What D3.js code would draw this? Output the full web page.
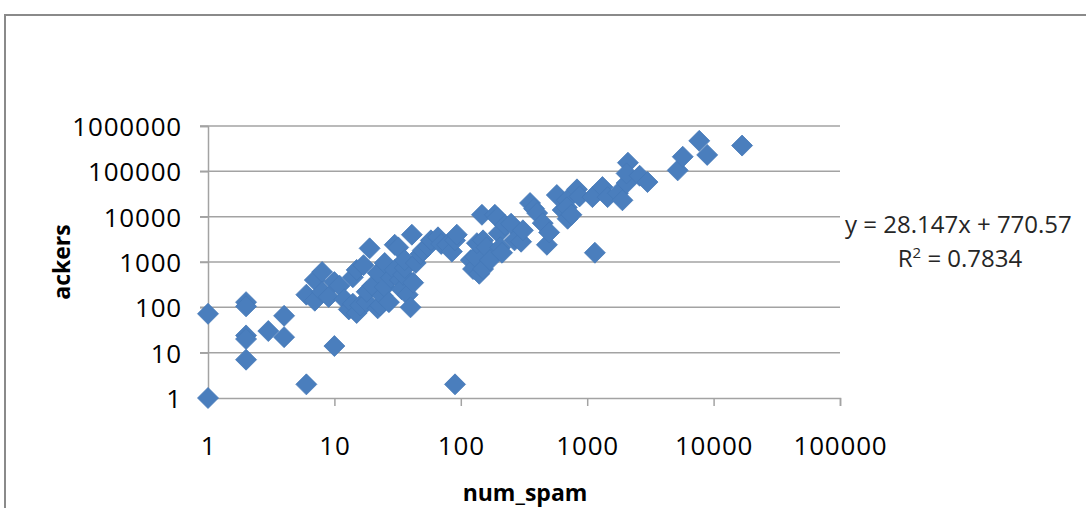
<!DOCTYPE html>
<html>
<head>
<meta charset="utf-8">
<script src="https://cdn.jsdelivr.net/npm/d3@7"></script>
<style>
  body { margin: 0; background: #fff; }
  svg { display: block; }
</style>
</head>
<body>
<div id="chart"></div>
<script>
// data: [num_spam, ackers]
var lowPoints = [
    [1, 1], [1, 72], [2, 130], [2, 105], [2, 24], [2, 20], [2, 7], [3, 30],
    [4, 65], [4, 22], [6, 2], [10, 14], [90, 2]
];
var midPoints = [
    [6, 190], [7, 140], [7, 400], [8, 600], [8, 220], [9, 170], [10, 360], [11, 300],
    [12, 150], [13, 90], [14, 460], [14, 120], [15, 670], [15, 75], [16, 110], [17, 850],
    [18, 130], [19, 2000], [18, 220], [20, 300], [22, 570], [22, 95], [23, 110], [24, 180],
    [25, 950], [25, 280], [27, 130], [28, 450], [30, 2400], [30, 670], [32, 2100], [33, 400],
    [34, 250], [35, 520], [36, 740], [36, 1100], [38, 190], [40, 100], [41, 4000], [42, 350],
    [44, 950], [48, 1500], [50, 1800], [55, 2200], [58, 3000], [66, 3500], [70, 2500],
    [78, 2400], [85, 1700], [90, 3000], [93, 4000]
];
var highPoints = [
    [120, 1100], [125, 700], [130, 1300], [134, 2600], [140, 550], [147, 11000], [150, 3000],
    [150, 700], [160, 2100], [170, 1100], [186, 11000], [195, 9500], [200, 4300], [205, 2100],
    [212, 1600], [224, 6500], [250, 7000], [266, 3000], [300, 2800], [310, 5000], [353, 20000],
    [380, 15000], [402, 12000], [445, 7200], [480, 2400], [500, 4500], [575, 30000],
    [640, 14000], [690, 23000], [690, 16000], [700, 9000], [750, 11000], [830, 40000],
    [870, 28000], [1100, 27000], [1150, 1600], [1320, 45000], [1450, 27000], [1750, 33000],
    [1900, 23000], [2050, 55000], [2100, 155000], [2050, 90000], [2600, 80000], [3000, 58000],
    [5200, 105000], [5700, 210000], [7700, 470000], [8900, 230000], [16800, 370000]
];
var xTicks = [1, 10, 100, 1000, 10000, 100000];
var yTicks = [1, 10, 100, 1000, 10000, 100000, 1000000];
var xTitle = "num_spam", yTitle = "ackers";
var trendText = "y = 28.147x + 770.57", r2Value = "0.7834";

var svg = d3.select("#chart").append("svg"),
    svg_width = 1086, svg_height = 508;
svg.attr("width", svg_width).attr("height", svg_height);

var font = "'Open Sans', 'DejaVu Sans', sans-serif";

// outer chart frame (cut off on the right and bottom)
svg.append("rect")
    .attr("x", 5).attr("y", 15)
    .attr("width", 1200).attr("height", 600)
    .attr("fill", "none")
    .attr("stroke", "#8a8a8a")
    .attr("stroke-width", 2);

var x = d3.scaleLog().domain([1, 100000]).range([208, 840]),
    y = d3.scaleLog().domain([1, 1000000]).range([398, 126]);

// gridlines
svg.append("g")
    .selectAll("line")
    .data(yTicks.slice(1))
    .enter().append("line")
    .attr("x1", x(1) - 8).attr("x2", x(100000))
    .attr("y1", function(d) { return y(d); })
    .attr("y2", function(d) { return y(d); })
    .attr("stroke", "#a3a3a3")
    .attr("stroke-width", 1.5);

// axes
var xAxis = svg.append("g")
    .attr("transform", "translate(0," + y(1) + ")")
    .call(d3.axisBottom(x).tickValues(xTicks).tickSize(8).tickPadding(31).tickFormat(d3.format("d")));
var yAxis = svg.append("g")
    .attr("transform", "translate(" + x(1) + ",0)")
    .call(d3.axisLeft(y).tickValues(yTicks).tickSize(8).tickPadding(18).tickFormat(d3.format("d")));

[xAxis, yAxis].forEach(function(a) {
    a.select(".domain").attr("stroke", "#a3a3a3").attr("stroke-width", 1.5);
    a.selectAll(".tick line").attr("stroke", "#a3a3a3").attr("stroke-width", 1.5);
    a.selectAll(".tick text")
        .attr("fill", "#000")
        .style("font-family", font)
        .style("font-size", "26px")
        .style("letter-spacing", "0.8px");
});
yAxis.selectAll(".tick text").attr("dy", "0.36em");

// points
var all = lowPoints.concat(midPoints, highPoints);
svg.append("g")
    .selectAll("path")
    .data(all)
    .enter().append("path")
    .attr("d", "M0,-10.5L10.5,0L0,10.5L-10.5,0Z")
    .attr("transform", function(d) { return "translate(" + x(d[0]) + "," + y(d[1]) + ")"; })
    .attr("fill", "#4a7ebd")
    .attr("stroke", "#4579b8")
    .attr("stroke-width", 0.8);

// axis titles
svg.append("text")
    .attr("x", 525).attr("y", 501)
    .attr("text-anchor", "middle")
    .style("font-family", font)
    .style("font-size", "23px")
    .style("font-weight", "bold")
    .text(xTitle);

svg.append("text")
    .attr("transform", "translate(70,262) rotate(-90)")
    .attr("text-anchor", "middle")
    .style("font-family", font)
    .style("font-size", "23px")
    .style("font-weight", "bold")
    .text(yTitle);

// trendline label
svg.append("text")
    .attr("x", 845).attr("y", 233)
    .style("font-family", font)
    .style("font-size", "24px")
    .attr("fill", "#262626")
    .text(trendText);

var r2 = svg.append("text")
    .attr("x", 960).attr("y", 267)
    .attr("text-anchor", "middle")
    .style("font-family", font)
    .style("font-size", "24px")
    .attr("fill", "#262626");
r2.append("tspan").text("R");
r2.append("tspan").attr("dy", -9).style("font-size", "15px").text("2");
r2.append("tspan").attr("dy", 9).text(" = " + r2Value);
</script>
</body>
</html>
